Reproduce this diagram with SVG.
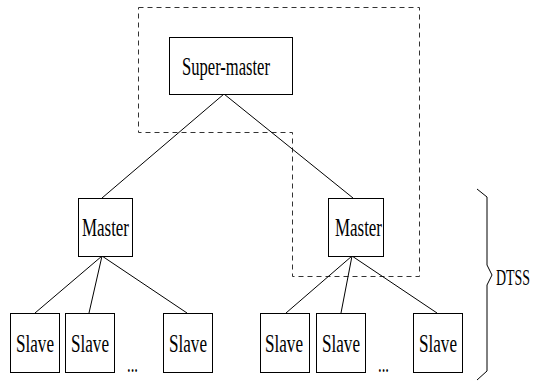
<svg xmlns="http://www.w3.org/2000/svg" width="535" height="381" viewBox="0 0 535 381">
<style>
.box{fill:#fff;stroke:#000;stroke-width:1}
.t{font-family:"Liberation Serif","Times New Roman",serif;font-size:26px;fill:#000}
.c{stroke:#000;stroke-width:1;fill:none}
.dash{fill:none;stroke:#333;stroke-width:1;stroke-dasharray:5,4}
</style>
<rect width="535" height="381" fill="#fff"/>
<path class="dash" d="M138.5,7.5 H419.5 V276.5 H292.5 V132.5 H138.5 Z"/>
<g id="connectors">
<line class="c" x1="224" y1="94" x2="102" y2="198"/>
<line class="c" x1="224" y1="94" x2="353" y2="198"/>
<line class="c" x1="102" y1="256" x2="35" y2="313"/>
<line class="c" x1="102" y1="256" x2="89" y2="313"/>
<line class="c" x1="102" y1="256" x2="187" y2="313"/>
<line class="c" x1="352" y1="256" x2="286" y2="313"/>
<line class="c" x1="352" y1="256" x2="341" y2="313"/>
<line class="c" x1="352" y1="256" x2="437" y2="313"/>
</g>
<g id="supermaster">
<rect class="box" x="169.5" y="37.5" width="123" height="57"/>
<text class="t" x="182" y="75" textLength="88" lengthAdjust="spacingAndGlyphs">Super-master</text>
</g>
<g id="master1">
<rect class="box" x="78.5" y="198.5" width="54" height="58"/>
<text class="t" x="82" y="236" textLength="47" lengthAdjust="spacingAndGlyphs">Master</text>
</g>
<g id="master2">
<rect class="box" x="328.5" y="198.5" width="55" height="58"/>
<text class="t" x="335" y="236" textLength="47" lengthAdjust="spacingAndGlyphs">Master</text>
</g>
<g id="slave1">
<rect class="box" x="10.5" y="313.5" width="49" height="59"/>
<text class="t" x="16" y="352" textLength="38" lengthAdjust="spacingAndGlyphs">Slave</text>
</g>
<g id="slave2">
<rect class="box" x="65.5" y="313.5" width="49" height="59"/>
<text class="t" x="71" y="352" textLength="38" lengthAdjust="spacingAndGlyphs">Slave</text>
</g>
<g id="slave3">
<rect class="box" x="163.5" y="313.5" width="49" height="59"/>
<text class="t" x="169" y="352" textLength="38" lengthAdjust="spacingAndGlyphs">Slave</text>
</g>
<g id="slave4">
<rect class="box" x="260.5" y="313.5" width="49" height="59"/>
<text class="t" x="265" y="352" textLength="38" lengthAdjust="spacingAndGlyphs">Slave</text>
</g>
<g id="slave5">
<rect class="box" x="316.5" y="313.5" width="49" height="59"/>
<text class="t" x="322" y="352" textLength="38" lengthAdjust="spacingAndGlyphs">Slave</text>
</g>
<g id="slave6">
<rect class="box" x="413.5" y="313.5" width="49" height="59"/>
<text class="t" x="419" y="352" textLength="38" lengthAdjust="spacingAndGlyphs">Slave</text>
</g>
<text class="t" x="127" y="372" textLength="11" lengthAdjust="spacingAndGlyphs">...</text>
<text class="t" x="378" y="372" textLength="11" lengthAdjust="spacingAndGlyphs">...</text>
<g id="dtss">
<path class="c" d="M477,189 L487,197 V265 L492,275 L487,285 V371 L477,380"/>
<text class="t" transform="translate(496,285) scale(0.58,1)" x="0" y="0" style="font-size:24px">DTSS</text>
</g>
</svg>
